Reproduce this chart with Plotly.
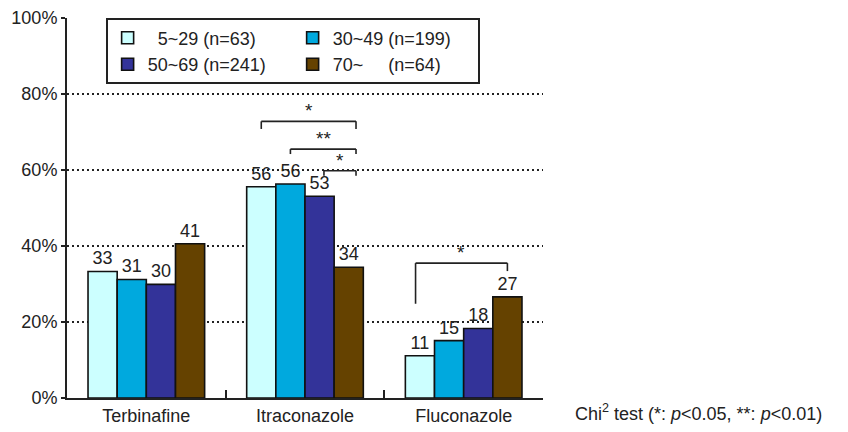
import plotly.graph_objects as go

# ---- data ----
drugs = ["Terbinafine", "Itraconazole", "Fluconazole"]
age_groups = ["\u00a0\u00a05~29 (n=63)", "30~49 (n=199)", "50~69 (n=241)",
              "70~\u00a0\u00a0\u00a0\u00a0\u00a0(n=64)"]
age_5_29 = [33.3, 55.6, 11.1]
age_30_49 = [31.2, 56.3, 15.1]
age_50_69 = [29.9, 53.1, 18.3]
age_70_up = [40.6, 34.4, 26.6]
series = [age_5_29, age_30_49, age_50_69, age_70_up]
colors = ["#CCFFFF", "#00A9DE", "#333399", "#654200"]

y_ticks = [0, 20, 40, 60, 80, 100]
y_tick_labels = ["0%", "20%", "40%", "60%", "80%", "100%"]

# significance brackets: drug index, left bar pos, right bar pos, label,
# bracket top, left leg bottom, right leg bottom (bar pos in bar-index units)
sig_drug = [1, 1, 1, 2]
sig_left = [0.0, 1.0, 2.15, -0.15]
sig_right = [3.25, 3.25, 3.25, 3.0]
sig_label = ["*", "**", "*", "*"]
sig_top = [72.8, 65.5, 59.8, 35.5]
sig_lbot = [70.8, 64.2, 58.5, 24.8]
sig_rbot = [70.8, 64.2, 58.5, 33.4]

FONT = "Liberation Sans, Arial, sans-serif"
bargap = 0.265
nbars = len(series)
bw = (1 - bargap) / nbars


def bar_x(drug_idx, pos):
    return drug_idx - (1 - bargap) / 2 + bw * (pos + 0.5)


fig = go.Figure()
for name, vals, col in zip(age_groups, series, colors):
    fig.add_trace(go.Bar(
        x=drugs, y=vals, name=name,
        marker=dict(color=col, line=dict(color="#111111", width=1.6)),
        texttemplate="%{y:.0f}", textposition="outside",
        textfont=dict(family=FONT, size=18, color="#222222"),
        constraintext="none", cliponaxis=False,
    ))

shapes = []
annotations = []
for d, l, r, lab, top, lb, rb in zip(sig_drug, sig_left, sig_right, sig_label,
                                       sig_top, sig_lbot, sig_rbot):
    x0 = bar_x(d, l)
    x1 = bar_x(d, r)
    line = dict(color="#222222", width=1.6)
    shapes.append(dict(type="line", xref="x", yref="y", x0=x0, x1=x0, y0=lb, y1=top, line=line))
    shapes.append(dict(type="line", xref="x", yref="y", x0=x0, x1=x1, y0=top, y1=top, line=line))
    shapes.append(dict(type="line", xref="x", yref="y", x0=x1, x1=x1, y0=top, y1=rb, line=line))
    annotations.append(dict(x=(x0 + x1) / 2, y=top, xref="x", yref="y", text=lab,
                            showarrow=False, yanchor="bottom", yshift=-2,
                            font=dict(family=FONT, size=19, color="#222222")))

annotations.append(dict(
    x=1.063, y=-0.039, xref="paper", yref="paper", xanchor="left", yanchor="middle",
    text="Chi<sup>2</sup> test (*: <i>p</i>&lt;0.05, **: <i>p</i>&lt;0.01)",
    showarrow=False, font=dict(family=FONT, size=18, color="#222222")))

# the page body adds an 8px offset; the figure is sized to fill the rest of the window
fig.update_layout(
    width=840, height=424,
    margin=dict(l=59, r=305, t=10, b=34, autoexpand=False),
    paper_bgcolor="white", plot_bgcolor="white",
    barmode="group", bargap=bargap, bargroupgap=0,
    font=dict(family=FONT, size=18, color="#222222"),
    showlegend=True,
    legend=dict(
        orientation="h", x=0.082, y=1.0, xanchor="left", yanchor="top",
        entrywidth=140, entrywidthmode="pixels",
        bgcolor="white", bordercolor="#222222", borderwidth=1.6,
        font=dict(family=FONT, size=18, color="#222222"),
        traceorder="normal", itemwidth=30,
    ),
    shapes=shapes, annotations=annotations,
)
fig.update_xaxes(
    type="category", range=[-0.5, 2.5],
    showline=True, linecolor="#222222", linewidth=2,
    ticks="inside", tickson="boundaries", ticklen=8, tickwidth=1.6, tickcolor="#222222",
    showgrid=False, tickfont=dict(family=FONT, size=18, color="#222222"),
)
fig.update_yaxes(
    range=[0, 100], tickmode="array", tickvals=y_ticks, ticktext=y_tick_labels,
    ticklabeloverflow="allow",
    showline=True, linecolor="#222222", linewidth=2,
    ticks="outside", ticklen=4, tickwidth=1.6, tickcolor="#222222",
    showgrid=True, gridcolor="#222222", gridwidth=1.5, griddash="2px,3px",
    zeroline=False, tickfont=dict(family=FONT, size=18, color="#222222"),
)

fig.write_html("out.html")
